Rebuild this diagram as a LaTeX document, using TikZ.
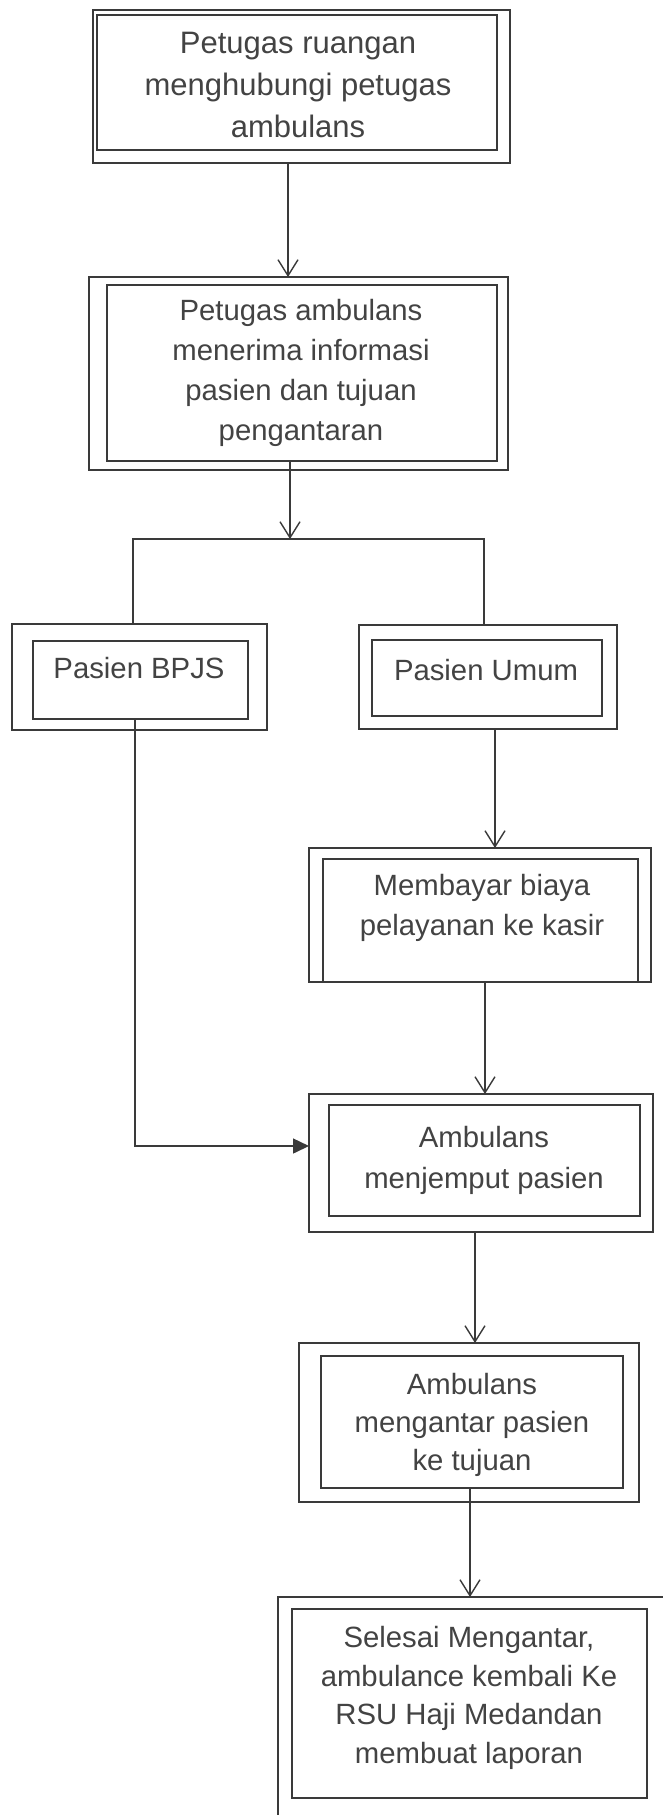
\documentclass[tikz,border=0pt]{standalone}
\usepackage{fontspec}
\setmainfont{Liberation Sans}
\usetikzlibrary{arrows.meta,calc}
\definecolor{ink}{HTML}{3A3A3A}
\definecolor{txt}{HTML}{434343}
% \boxrect{name}{x1}{y1}{x2}{y2}{style}: rectangle given by its corners
\newcommand\boxrect[6]{\node[#6, minimum width={#4-#2}, minimum height={#5-#3}] (#1) at ({(#2+#4)/2},{(#3+#5)/2}) {};}
\begin{document}
\begin{tikzpicture}[x=1pt,y=-1pt,
  frame/.style={draw=ink,line width=2.6pt,rectangle,inner sep=0pt,outer sep=0pt},
  panel/.style={draw=ink,line width=1.1pt,rectangle,inner sep=0pt,outer sep=0pt},
  label/.style={text=txt,align=center,inner sep=0pt,font=\fontsize{29.3}{#1}\selectfont},
  link/.style={draw=ink,line width=1.5pt},
  open/.style={link,-{Straight Barb[length=16pt,width=20pt,line width=1.4pt]}},
  solid tip/.style={link,-{Triangle[length=16pt,width=15pt]}},
]
\fill[white] (0,0) rectangle (662,1815);
\useasboundingbox (0,0) rectangle (662,1815);

% start
\boxrect{b1o}{93}{10}{510}{163}{frame}
\boxrect{b1i}{97}{15}{497}{150}{panel}
\node[label=42pt, font=\fontsize{31}{42}\selectfont] (t1) at (298,85) {Petugas ruangan\\menghubungi petugas\\ambulans};

% information received
\boxrect{b2o}{89}{277}{508}{470}{frame}
\boxrect{b2i}{107}{285}{497}{461}{panel}
\node[label=40pt] (t2) at (301,373) {Petugas ambulans\\menerima informasi\\pasien dan tujuan\\pengantaran};

% patient categories
\boxrect{bpjso}{12}{624}{267}{730}{frame}
\boxrect{bpjsi}{33}{641}{248}{719}{panel}
\node[label=40pt] (t3) at (139,668) {Pasien BPJS};

\boxrect{umumo}{359}{625}{617}{729}{frame}
\boxrect{umumi}{372}{640}{602}{716}{panel}
\node[label=40pt] (t4) at (486,670) {Pasien Umum};

% payment
\boxrect{payo}{309}{848}{651}{982}{frame}
\boxrect{payi}{323}{859}{638}{982}{panel}
\node[label=40pt] (t5) at (482,908) {Membayar biaya\\pelayanan ke kasir};

% pick up
\boxrect{pickupo}{309}{1094}{653}{1232}{frame}
\boxrect{pickupi}{329}{1105}{640}{1216}{panel}
\node[label=41pt] (t6) at (484,1160) {Ambulans\\menjemput pasien};

% delivery
\boxrect{delivo}{299}{1343}{639}{1502}{frame}
\boxrect{delivi}{321}{1356}{623}{1488}{panel}
\node[label=38pt] (t7) at (472,1425) {Ambulans\\mengantar pasien\\ke tujuan};

% finish
\boxrect{endo}{278}{1597}{700}{1840}{frame}
\boxrect{endi}{292}{1609}{647}{1798}{panel}
\node[label=38.5pt] (t8) at (469,1698) {Selesai Mengantar,\\ambulance kembali Ke\\RSU Haji Medandan\\membuat laporan};

% connectors
\coordinate (split) at (290,539);
\draw[open] (b1o.south -| 288,0) -- (b2o.north -| 288,0);
\draw[open] (b2i.south -| split) -- (split);
\draw[link] (bpjso.north -| 133,0) |- (split) -| (umumo.north -| 484,0);
\draw[open] (umumo.south -| 495,0) -- (payo.north -| 495,0);
\draw[open] (payo.south -| 485,0) -- (pickupo.north -| 485,0);
\draw[solid tip] (bpjsi.south -| 135,0) |- (pickupo.west |- 0,1146);
\draw[open] (pickupo.south -| 475,0) -- (delivo.north -| 475,0);
\draw[open] (delivi.south -| 470,0) -- (endo.north -| 470,0);
\end{tikzpicture}
\end{document}
